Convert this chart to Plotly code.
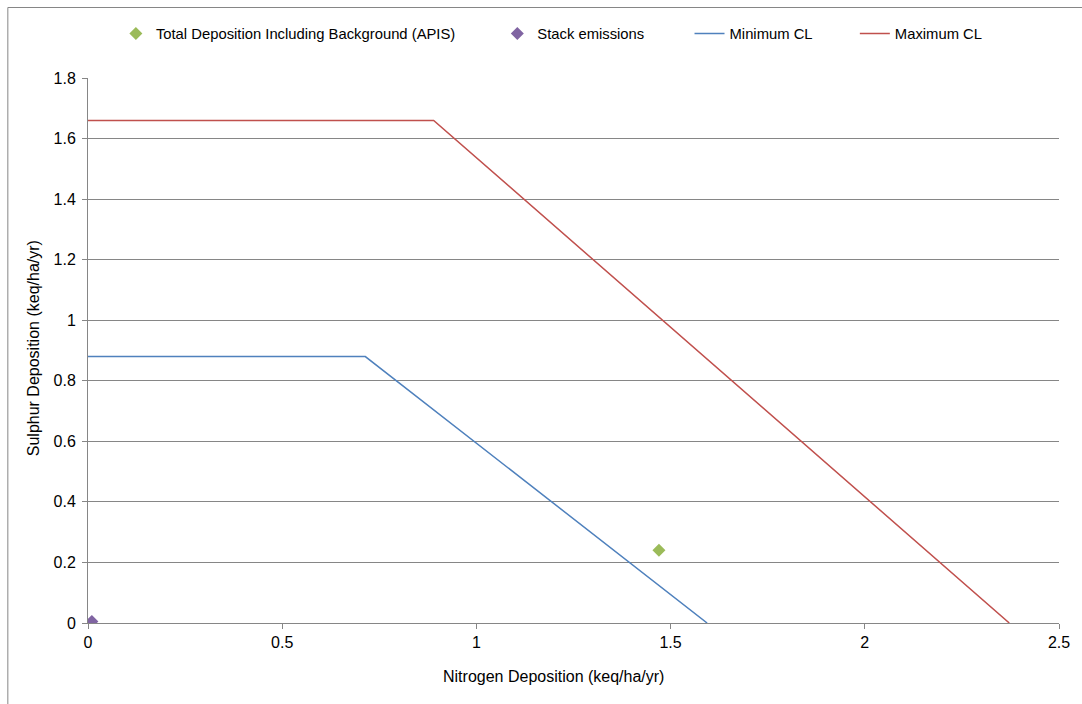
import plotly.graph_objects as go

# Data
total_dep_x = [1.47]
total_dep_y = [0.24]
stack_x = [0.01]
stack_y = [0.005]
min_cl_x = [0, 0.714, 1.594]
min_cl_y = [0.88, 0.88, 0]
max_cl_x = [0, 0.89, 2.372]
max_cl_y = [1.66, 1.66, 0]

x_ticks = [0, 0.5, 1, 1.5, 2, 2.5]
x_tick_labels = ["0", "0.5", "1", "1.5", "2", "2.5"]
y_ticks = [0, 0.2, 0.4, 0.6, 0.8, 1, 1.2, 1.4, 1.6, 1.8]
y_tick_labels = ["0", "0.2", "0.4", "0.6", "0.8", "1", "1.2", "1.4", "1.6", "1.8"]

W, H = 1082, 704
L, R, T, B = 88, 19, 78, 81
pw, ph = W - L - R, H - T - B

def px2x(px):
    return (px - L) / pw

def py2y(py):
    return (H - B - py) / ph

FONT = "Liberation Sans, Arial, sans-serif"

fig = go.Figure()
fig.add_trace(go.Scatter(x=total_dep_x, y=total_dep_y, mode="markers",
                         name="Total Deposition Including Background (APIS)",
                         marker=dict(symbol="diamond", size=10, color="#9BBB59"),
                         legend="legend"))
fig.add_trace(go.Scatter(x=stack_x, y=stack_y, mode="markers",
                         name="Stack emissions",
                         marker=dict(symbol="diamond", size=10, color="#8064A2"),
                         legend="legend2"))
fig.add_trace(go.Scatter(x=min_cl_x, y=min_cl_y, mode="lines",
                         name="Minimum CL",
                         line=dict(color="#4F81BD", width=1.5),
                         legend="legend3"))
fig.add_trace(go.Scatter(x=max_cl_x, y=max_cl_y, mode="lines",
                         name="Maximum CL",
                         line=dict(color="#C0504D", width=1.5),
                         legend="legend4"))

def leg(px):
    return dict(x=px2x(px), xanchor="left", y=py2y(34), yanchor="middle",
                orientation="h", bgcolor="rgba(0,0,0,0)",
                font=dict(family=FONT, size=14.8, color="#000000"),
                borderwidth=0, visible=True)

fig.update_layout(
    width=W, height=H,
    margin=dict(l=L, r=R, t=T, b=B),
    paper_bgcolor="white", plot_bgcolor="white",
    showlegend=True,
    font=dict(family=FONT, size=16, color="#000000"),
    legend=leg(116), legend2=leg(499), legend3=leg(692), legend4=leg(858),
    xaxis=dict(range=[0, 2.5], tickvals=x_ticks, ticktext=x_tick_labels,
               showgrid=False, zeroline=False, showline=True,
               linecolor="#868686", linewidth=1, ticks="outside",
               ticklen=5, tickcolor="#868686",
               tickfont=dict(family=FONT, size=16)),
    yaxis=dict(range=[0, 1.8], tickvals=y_ticks, ticktext=y_tick_labels,
               showgrid=True, gridcolor="#868686", gridwidth=1,
               zeroline=False, showline=True,
               linecolor="#868686", linewidth=1, ticks="outside",
               ticklen=5, tickcolor="#868686", ticklabelstandoff=3,
               tickfont=dict(family=FONT, size=16)),
    annotations=[
        dict(text="Nitrogen Deposition (keq/ha/yr)", xref="paper", yref="paper",
             x=px2x(555.5), y=py2y(676), xanchor="center", yanchor="middle",
             showarrow=False, font=dict(family=FONT, size=16)),
        dict(text="Sulphur Deposition (keq/ha/yr)", xref="paper", yref="paper",
             x=px2x(33), y=py2y(348), xanchor="center", yanchor="middle",
             textangle=-90, showarrow=False, font=dict(family=FONT, size=16)),
    ],
    shapes=[
        dict(type="rect", xref="paper", yref="paper",
             x0=px2x(7.5), y0=py2y(710), x1=px2x(1090), y1=py2y(7.5),
             line=dict(color="#868686", width=1), layer="below"),
    ],
)

fig.write_html("out.html")
